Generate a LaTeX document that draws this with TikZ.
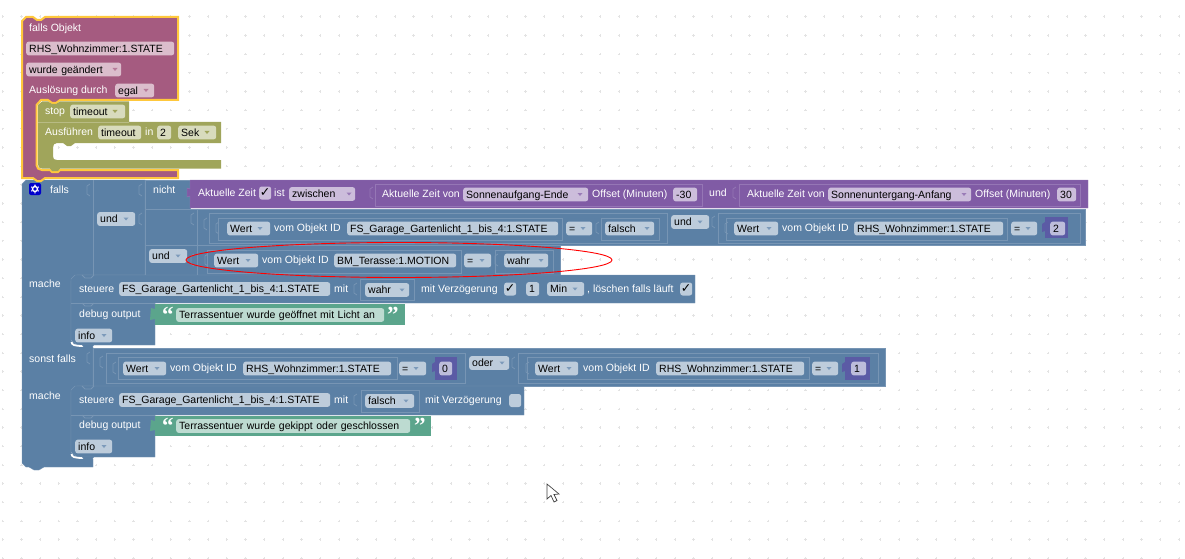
\documentclass[tikz,border=0pt]{standalone}
\usepackage{fontspec}
\setmainfont{Liberation Sans}
\newfontfamily\symfont{DejaVu Sans}
\newfontfamily\quotefont{Liberation Serif}
\definecolor{blueblk}{HTML}{5B80A5}
\definecolor{blueedge}{HTML}{7795B4}
\definecolor{bluefld}{HTML}{BDCCDB}
\definecolor{bluetri}{HTML}{7C9ABA}
\definecolor{pinkblk}{HTML}{A55B80}
\definecolor{pinkfld}{HTML}{DBBDCC}
\definecolor{purpblk}{HTML}{805BA5}
\definecolor{purpedge}{HTML}{9576B5}
\definecolor{purpfld}{HTML}{CCBDDB}
\definecolor{oliveblk}{HTML}{A0A55B}
\definecolor{olivefld}{HTML}{D8DBBD}
\definecolor{greenblk}{HTML}{5BA58C}
\definecolor{greenfld}{HTML}{BDDBD1}
\definecolor{indigoblk}{HTML}{5B5BA5}
\definecolor{indigofld}{HTML}{BDBDDB}
\definecolor{selyellow}{HTML}{FFC83C}
\tikzset{
  lbl/.style={anchor=west,inner sep=0pt,text=white,text height=7.3pt,text depth=0pt},
  fld/.style={anchor=west,inner ysep=3.2pt,inner xsep=3pt,text=black,rounded corners=2.5pt,align=left,text height=7.3pt,text depth=0pt},
  bfld/.style={fld,fill=bluefld},
  pfld/.style={fld,fill=purpfld},
  kfld/.style={fld,fill=pinkfld},
  ofld/.style={fld,fill=olivefld},
  gfld/.style={fld,fill=greenfld},
  ifld/.style={fld,fill=indigofld},
  chk/.style={anchor=west,inner sep=0pt,minimum width=12pt,minimum height=13pt,rounded corners=2.5pt,text=black,font=\symfont\fontsize{12.5}{13}\selectfont},
  qmark/.style={anchor=west,inner sep=0pt,text=white,text height=9pt,text depth=0pt,font=\quotefont\bfseries\fontsize{23}{23}\selectfont},
  frm/.style={draw=blueedge,line width=0.8pt},
  pfrm/.style={draw=purpedge,line width=0.8pt},
  griddot/.style={draw=black!11,line width=0.5pt},
  tabm/.style={draw=blueedge,line width=0.8pt},
  nchl/.style={draw=blueedge,line width=0.8pt},
  gapline/.style={draw=white,line width=1.8pt}
}
\begin{document}
\begin{tikzpicture}[x=1pt,y=-1pt,font=\fontsize{10.5}{12}\selectfont]
\useasboundingbox (0,0) rectangle (1185,559);

% grid
\foreach \i in {0,...,63}
  \foreach \j in {0,...,29}
    \draw[griddot] ({2.7+18.67*\i-1.2},{16.7+18.67*\j}) -- ++(2.4,0) ({2.7+18.67*\i},{16.7+18.67*\j-1.2}) -- ++(0,2.4);

% blue blocks
\draw[fill=blueblk,draw=blueedge] (22,184) -- (26,180) -- (145,180) -- (145,275) -- (77,275) -- (77,281) -- (71,281) -- (71,341) -- (93,347) -- (93,386) -- (77,386) -- (77,392) -- (71,392) -- (71,453) -- (93,459) -- (93,467) -- (44,467) -- (39,470) -- (34,470) -- (29,467) -- (26,467) -- (22,463) -- cycle;
\draw[fill=blueblk,draw=blueedge] (145,180) -- (190,180) -- (190,209) -- (1085,209) -- (1085,245) -- (560,245) -- (560,275) -- (145,275) -- cycle;
\draw[fill=blueblk,draw=blueedge] (71,279) -- (75,275) -- (695,275) -- (695,303) -- (155,303) -- (155,345) -- (77,345) -- (71,340) -- cycle;
\draw[fill=blueblk,draw=blueedge] (93,348) -- (885,348) -- (885,386) -- (93,386) -- cycle;
\draw[fill=blueblk,draw=blueedge] (71,390) -- (75,386) -- (524,386) -- (524,415) -- (155,415) -- (155,457) -- (77,457) -- (71,452) -- cycle;
\draw[gapline] (71.5,342) .. controls (72,345) and (74,346) .. (84,346) -- (93,346);
\draw[gapline] (71.5,454) .. controls (72,457) and (74,458) .. (84,458) -- (93,458);
\fill[blueblk] (82,345) -- (94,345) -- (91,349) -- (85,349) -- cycle;
\fill[blueblk] (82,457) -- (94,457) -- (91,461) -- (85,461) -- cycle;
\draw[frm] (93,180) -- (93,275);
\draw[frm] (93,348) -- (93,386);
\draw[frm] (145,209) -- (1085,209);
\draw[frm] (145,245) -- (560,245);
\draw[frm] (197,209) -- (197,275);
\draw[frm] (71,303) -- (155,303);
\draw[frm] (71,415) -- (155,415);
\foreach \x/\y in {88/275,88/303,88/386,88/415}
  \draw[nchl] (\x-6,\y) -- (\x-3,\y+3) -- (\x+3,\y+3) -- (\x+6,\y);

% frames of nested blocks
\draw[frm] (209,213) rectangle (667,243);
\draw[frm] (218,218) rectangle (562,240);
\draw[frm] (601,218) rectangle (659,240);
\draw[frm] (718,213) rectangle (1080,243);
\draw[frm] (726,218) rectangle (1007,240);
\draw[frm] (207,250) rectangle (461,273);
\draw[frm] (495,250) rectangle (553,273);
\draw[frm] (360,279) rectangle (414,300);
\draw[frm] (106,353) rectangle (465,383);
\draw[frm] (118,357) rectangle (397,379);
\draw[frm] (518,353) rectangle (878,383);
\draw[frm] (527,357) rectangle (809,379);
\draw[frm] (361,390) rectangle (419,412);

% purple row
\draw[fill=purpblk,draw=purpedge] (190,180) -- (1088,180) -- (1088,208) -- (190,208) -- (190,196) -- (187,197) -- (187,188) -- (190,189) -- cycle;
\draw[pfrm] (375,184) rectangle (702,206);
\draw[pfrm] (739,184) rectangle (1080,206);

% top block
\draw[fill=pinkblk,draw=selyellow,line width=2pt] (22,21) -- (26,17) -- (33,17) -- (37,20) -- (41,20) -- (45,17) -- (178,17) -- (178,100) -- (60,100) -- (56,103) -- (52,103) -- (48,100) -- (41,100) -- (36.5,105) -- (36.5,165) .. controls (36.5,168) and (39,170) .. (42,170) -- (50,170) -- (52,172) -- (58,172) -- (60,170) -- (178,170) -- (178,178) -- (45,178) -- (41,181) -- (37,181) -- (33,178) -- (22,178) -- cycle;
\fill[oliveblk] (38,105) -- (42,101.5) -- (48,101.5) -- (52,104) -- (56,104) -- (60,101.5) -- (129,101.5) -- (129,122) -- (221,122) -- (221,143) -- (75,143) -- (71,146) -- (67,146) -- (63,143) -- (57,143) .. controls (54,143) and (53,145) .. (53,148) -- (53,156) .. controls (53,159) and (54,160) .. (57,160) -- (221,160) -- (221,168.5) -- (60,168.5) -- (58,171) -- (52,171) -- (50,168.5) -- (42,168.5) .. controls (39,168.5) and (38,167) .. (38,164) -- cycle;
\draw[oliveblk!75!white,line width=0.7pt] (38,122) -- (129,122);

\node[lbl] (lblobj) at (29,28) {falls Objekt};
\node[kfld,text width=142pt] (fldrhs) at (26,48.5) {RHS\_Wohnzimmer:1.STATE};
\node[kfld,text width=89pt] (fldchg) at (26,69.5) {wurde geändert};
\node[lbl] (lblausl) at (29,90) {Auslösung durch};
\node[kfld,text width=33pt] (fldegal) at (115,90.5) {egal};
\node[lbl] (lblstop) at (45,111) {stop};
\node[ofld,text width=49pt] (fldtimeout) at (70,111.5) {timeout};
\node[lbl] (lblrun) at (45,132) {Ausführen};
\node[ofld,text width=37pt] (fldtm) at (98,132.5) {timeout};
\node[lbl] (lblin) at (145,132) {in};
\node[ofld,text width=8pt] (fldtwo) at (157,132.5) {2};
\node[ofld,text width=32pt] (fldsek) at (178,132.5) {Sek};

% left column
\node[anchor=center,inner sep=0pt,minimum size=12pt,rounded corners=2pt,fill=blue!80!black] (gear) at (35,189) {};
\draw[white,line width=1.4pt] (gear.center) circle (2.5);
\foreach \a in {30,90,...,330}
  \fill[white] ([shift={(\a:3.8)}]gear.center) circle (0.8);
\node[lbl] (lblfalls) at (50,190) {falls};
\node[lbl] (lblnicht) at (153,190) {nicht};
\node[lbl] (lblmache) at (29,284) {mache};
\node[lbl] (lblsonst) at (29,359) {sonst falls};
\node[lbl] (lblmachez) at (29,396) {mache};
\node[bfld,text width=32pt] (fldund) at (97,219) {und};
\node[bfld,text width=32pt] (fldundz) at (149,256) {und};

% row nicht
\node[lbl] (lblzeit) at (198,193) {Aktuelle Zeit};
\node[chk,fill=purpfld] (chkzeit) at (259,193) {✓};
\node[lbl] (lblist) at (274,193) {ist};
\node[pfld,text width=60pt] (fldzw) at (289,194) {zwischen};
\node[lbl] (lblvon) at (382,194) {Aktuelle Zeit von};
\node[pfld,text width=119pt] (fldauf) at (463,194.5) {Sonnenaufgang-Ende};
\node[lbl] (lbloff) at (592,194) {Offset (Minuten)};
\node[pfld,text width=18pt] (fldmin) at (673,194.5) {-30};
\node[lbl] (lblundm) at (709,193) {und};
\node[lbl] (lblvonz) at (747,194) {Aktuelle Zeit von};
\node[pfld,text width=137pt] (fldunt) at (828,194.5) {Sonnenuntergang-Anfang};
\node[lbl] (lbloffz) at (975,194) {Offset (Minuten)};
\node[pfld,text width=13pt] (fldoff) at (1057,194.5) {30};

% row und 1
\node[bfld,text width=37pt] (fldwa) at (227,228.5) {Wert};
\node[lbl] (lblida) at (274,228) {vom Objekt ID};
\node[bfld,text width=205pt] (fldfsa) at (347,228.5) {FS\_Garage\_Gartenlicht\_1\_bis\_4:1.STATE};
\node[bfld,text width=20pt] (fldeqa) at (566,228.5) {=};
\node[bfld,text width=43pt] (fldfa) at (605,228.5) {falsch};
\node[bfld,text width=32pt] (fldundr) at (671,222) {und};
\node[bfld,text width=38pt] (fldwb) at (734,228.5) {Wert};
\node[lbl] (lblidb) at (782,228) {vom Objekt ID};
\node[bfld,text width=143pt] (fldrhsb) at (854,228.5) {RHS\_Wohnzimmer:1.STATE};
\node[bfld,text width=20pt] (fldeqb) at (1011,228.5) {=};
\fill[indigoblk] (1045,217) rectangle (1068,238);
\node[ifld,text width=9pt] (fldnb) at (1050,228.5) {2};

% row und 2 with the red mark
\node[bfld,text width=38pt] (fldwc) at (214,260.5) {Wert};
\node[lbl] (lblidc) at (262,260) {vom Objekt ID};
\node[bfld,text width=116pt] (fldbm) at (334,260.5) {BM\_Terasse:1.MOTION};
\node[bfld,text width=21pt] (fldeqc) at (464,260.5) {=};
\node[bfld,text width=38pt] (fldwahr) at (504,260.5) {wahr};

% steuere 1
\node[lbl] (lblsta) at (79,289) {steuere};
\node[bfld,text width=205pt] (fldfsb) at (119,289) {FS\_Garage\_Gartenlicht\_1\_bis\_4:1.STATE};
\node[lbl] (lblmita) at (334,289) {mit};
\node[bfld,text width=38pt] (fldwahrb) at (365,290) {wahr};
\node[lbl] (lblvza) at (421,289) {mit Verzögerung};
\node[chk,fill=bluefld] (chkva) at (504,289) {✓};
\node[bfld,text width=7pt] (fldone) at (526,289) {1};
\node[bfld,text width=31pt] (fldminb) at (547,289) {Min};
\node[lbl] (lblloe) at (587,289) {, löschen falls läuft};
\node[chk,fill=bluefld] (chkloe) at (680,289) {✓};

% debug 1
\node[lbl] (lbldba) at (79,314) {debug output};
\draw[fill=greenblk,draw=none] (155,304) rectangle (405,325);
\fill[greenblk] (155,309) -- (151,308) -- (150,320) -- (155,319) -- cycle;
\node[qmark] (qoa) at (162,318) {“};
\node[gfld,text width=202pt] (txta) at (176,315) {Terrassentuer wurde geöffnet mit Licht an};
\node[qmark] (qca) at (387,318) {”};
\node[bfld,text width=31pt] (fldinfa) at (75,335.5) {info};

% sonst falls row
\node[bfld,text width=37pt] (fldwd) at (123,368.5) {Wert};
\node[lbl] (lblidd) at (170,368) {vom Objekt ID};
\node[bfld,text width=142pt] (fldrhsd) at (243,368.5) {RHS\_Wohnzimmer:1.STATE};
\node[bfld,text width=21pt] (fldeqd) at (399,368.5) {=};
\fill[indigoblk] (435,357) rectangle (457,380);
\node[ifld,text width=7pt] (fldnd) at (439,368.5) {0};
\node[bfld,text width=34pt] (fldoder) at (469,363) {oder};
\node[bfld,text width=37pt] (fldwe) at (535,368.5) {Wert};
\node[lbl] (lblide) at (583,368) {vom Objekt ID};
\node[bfld,text width=142pt] (fldrhse) at (656,368.5) {RHS\_Wohnzimmer:1.STATE};
\node[bfld,text width=20pt] (fldeqe) at (812,368.5) {=};
\fill[indigoblk] (845,357) rectangle (870,380);
\node[ifld,text width=9pt] (fldne) at (851,368.5) {1};

% steuere 2
\node[lbl] (lblstb) at (79,400) {steuere};
\node[bfld,text width=205pt] (fldfsc) at (119,400) {FS\_Garage\_Gartenlicht\_1\_bis\_4:1.STATE};
\node[lbl] (lblmitb) at (334,400) {mit};
\node[bfld,text width=43pt] (fldfb) at (365,401) {falsch};
\node[lbl] (lblvzb) at (425,400) {mit Verzögerung};
\node[chk,fill=bluefld] (chkvb) at (509,400.5) {};

% debug 2
\node[lbl] (lbldbb) at (79,425) {debug output};
\draw[fill=greenblk,draw=none] (155,416) rectangle (431,436);
\fill[greenblk] (155,421) -- (151,420) -- (150,431) -- (155,430) -- cycle;
\node[qmark] (qob) at (162,429) {“};
\node[gfld,text width=228pt] (txtb) at (176,426) {Terrassentuer wurde gekippt oder geschlossen};
\node[qmark] (qcb) at (414,429) {”};
\node[bfld,text width=31pt] (fldinfb) at (75,446.5) {info};

% little triangles of the drop downs
\foreach \x/\y in {126/219,178/256,260/228.5,583/228.5,647/228.5,700/222,769/228.5,1028/228.5,248/260.5,482/260.5,541/260.5,402/290,575/289,104/335.5,157/368.5,416/368.5,502/363,569/368.5,829/368.5,406/401,104/446.5}
  \fill[bluetri] (\x-2.5,\y-1.5) -- (\x+2.5,\y-1.5) -- (\x,\y+1.5) -- cycle;
\foreach \x/\y in {349/194,580/194.5,964/194.5}
  \fill[purpblk!80] (\x-2.5,\y-1.5) -- (\x+2.5,\y-1.5) -- (\x,\y+1.5) -- cycle;
\foreach \x/\y in {115/69.5,146/90.5}
  \fill[pinkblk!80] (\x-2.5,\y-1.5) -- (\x+2.5,\y-1.5) -- (\x,\y+1.5) -- cycle;
\foreach \x/\y in {115/111.5,207/132.5}
  \fill[oliveblk] (\x-2.5,\y-1.5) -- (\x+2.5,\y-1.5) -- (\x,\y+1.5) -- cycle;

% input tabs
\foreach \x/\y in {90/190,142/190,142/219,194/219,207/224,219/228,194/260,208/260,357/289,498/260,599/228,715/222,728/228,90/358,103/362,116/368,515/363,529/368,357/400}
  \draw[tabm] (\x,\y-6) -- ++(-3,2) -- ++(0,8) -- ++(3,2);
\foreach \x/\y in {373/193,736/193}
  \draw[pfrm] (\x,\y-6) -- ++(-3,2) -- ++(0,8) -- ++(3,2);
\foreach \x/\y in {1045/228,435/368,845/368}
  \fill[indigoblk] (\x,\y-6) -- ++(-3,2) -- ++(0,8) -- ++(3,-1) -- cycle;

% red ellipse
\draw[red,line width=0.9pt] (399,260) ellipse (213 and 17.5);

% cursor
\draw[fill=white,draw=black!75,line width=0.7pt] (547,484) -- (547,499) -- (551,495.5) -- (554,502) -- (557,500.5) -- (554,494.5) -- (559,494) -- cycle;
\end{tikzpicture}
\end{document}
